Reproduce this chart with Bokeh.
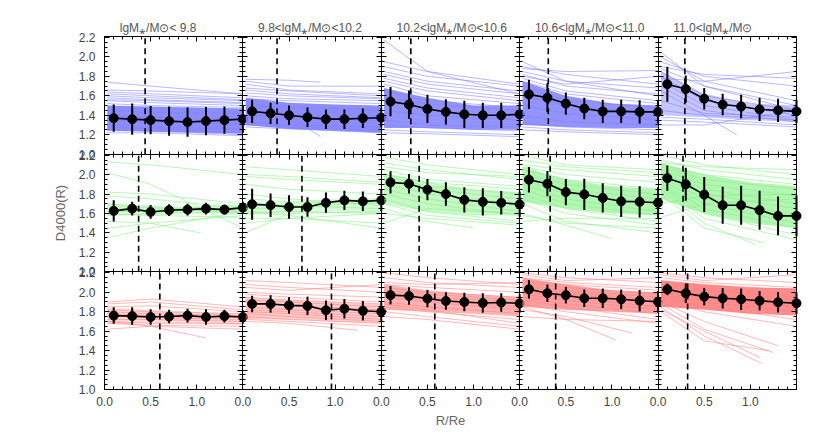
import numpy as np
from bokeh.plotting import figure
from bokeh.models import Range1d, LinearAxis, FixedTicker, Label, PrintfTickFormatter
from bokeh.embed import file_html
from bokeh.resources import INLINE

# ---------------- data ----------------
R = [0.1, 0.3, 0.5, 0.7, 0.9, 1.1, 1.3, 1.5]
BAND_X = [0.03, 0.5, 1.0, 1.5]
LINE_X0, LINE_XM, LINE_XE = 0.03, 0.5, 1.5
TITLES = ["lgM⁎/M⊙< 9.8", " 9.8<lgM⁎/M⊙<10.2", "10.2<lgM⁎/M⊙<10.6",
          "10.6<lgM⁎/M⊙<11.0", "11.0<lgM⁎/M⊙"]
XTICKS = [0.0, 0.5, 1.0]
YTICKS = [1.0, 1.2, 1.4, 1.6, 1.8, 2.0, 2.2]
XLABEL = "R/Re"
YLABEL = "D4000(R)"

blue_mean = [
    [1.37, 1.36, 1.35, 1.34, 1.33, 1.34, 1.35, 1.36],
    [1.44, 1.42, 1.40, 1.38, 1.36, 1.36, 1.37, 1.375],
    [1.54, 1.51, 1.465, 1.435, 1.41, 1.40, 1.40, 1.41],
    [1.615, 1.58, 1.52, 1.47, 1.44, 1.44, 1.435, 1.435],
    [1.72, 1.67, 1.57, 1.51, 1.49, 1.46, 1.45, 1.44],
]
blue_err = [
    [0.14, 0.16, 0.145, 0.15, 0.15, 0.145, 0.14, 0.14],
    [0.12, 0.11, 0.10, 0.10, 0.10, 0.10, 0.10, 0.10],
    [0.15, 0.145, 0.145, 0.13, 0.14, 0.13, 0.13, 0.13],
    [0.15, 0.15, 0.115, 0.11, 0.12, 0.12, 0.12, 0.12],
    [0.18, 0.14, 0.11, 0.11, 0.12, 0.12, 0.12, 0.12],
]
blue_rline = [0.44, 0.37, 0.32, 0.31, 0.29]

green_mean = [
    [1.627, 1.65, 1.616, 1.634, 1.64, 1.65, 1.64, 1.66],
    [1.695, 1.685, 1.667, 1.667, 1.71, 1.735, 1.725, 1.735],
    [1.92, 1.905, 1.845, 1.80, 1.74, 1.72, 1.71, 1.695],
    [1.947, 1.906, 1.82, 1.797, 1.76, 1.725, 1.72, 1.71],
    [1.963, 1.90, 1.794, 1.685, 1.685, 1.634, 1.575, 1.575],
]
green_err = [
    [0.11, 0.07, 0.07, 0.06, 0.06, 0.06, 0.05, 0.06],
    [0.16, 0.12, 0.12, 0.10, 0.105, 0.10, 0.10, 0.11],
    [0.115, 0.10, 0.11, 0.12, 0.13, 0.14, 0.12, 0.13],
    [0.13, 0.13, 0.135, 0.16, 0.15, 0.16, 0.16, 0.16],
    [0.13, 0.17, 0.18, 0.19, 0.20, 0.20, 0.20, 0.21],
]
green_rline = [0.37, 0.64, 0.41, 0.33, 0.27]

red_mean = [
    [1.76, 1.755, 1.745, 1.75, 1.76, 1.745, 1.755, 1.745],
    [1.88, 1.88, 1.865, 1.86, 1.815, 1.83, 1.81, 1.80],
    [1.97, 1.962, 1.935, 1.91, 1.90, 1.89, 1.895, 1.885],
    [2.03, 1.99, 1.97, 1.938, 1.938, 1.928, 1.913, 1.903],
    [2.03, 1.99, 1.955, 1.938, 1.928, 1.913, 1.897, 1.887],
]
red_err = [
    [0.085, 0.09, 0.08, 0.07, 0.07, 0.08, 0.065, 0.07],
    [0.085, 0.09, 0.085, 0.095, 0.10, 0.10, 0.10, 0.10],
    [0.095, 0.09, 0.09, 0.09, 0.095, 0.10, 0.095, 0.095],
    [0.095, 0.09, 0.085, 0.09, 0.10, 0.10, 0.11, 0.11],
    [0.06, 0.10, 0.09, 0.105, 0.11, 0.10, 0.105, 0.11],
]
red_rline = [0.60, 0.96, 0.58, 0.39, 0.32]

# dense core of the individual profiles (at BAND_X)
blue_band_lo = [[1.24, 1.23, 1.22, 1.21], [1.30, 1.26, 1.24, 1.22], [1.27, 1.27, 1.25, 1.25],
                [1.30, 1.28, 1.27, 1.27], [1.40, 1.38, 1.35, 1.33]]
blue_band_hi = [[1.50, 1.49, 1.48, 1.47], [1.58, 1.53, 1.51, 1.50], [1.68, 1.58, 1.50, 1.50],
                [1.75, 1.60, 1.52, 1.50], [1.85, 1.62, 1.52, 1.50]]
green_band_lo = [[1.58, 1.58, 1.60, 1.60], [1.58, 1.60, 1.62, 1.60], [1.70, 1.62, 1.58, 1.58],
                 [1.72, 1.65, 1.60, 1.58], [1.75, 1.60, 1.50, 1.45]]
green_band_hi = [[1.70, 1.68, 1.68, 1.70], [1.72, 1.72, 1.75, 1.76], [2.02, 1.92, 1.85, 1.82],
                 [2.08, 1.95, 1.88, 1.85], [2.12, 2.00, 1.92, 1.88]]
red_band_lo = [[1.68, 1.68, 1.68, 1.66], [1.72, 1.72, 1.70, 1.68], [1.82, 1.80, 1.78, 1.75],
               [1.85, 1.82, 1.80, 1.78], [1.85, 1.82, 1.78, 1.76]]
red_band_hi = [[1.84, 1.82, 1.80, 1.78], [1.95, 1.92, 1.90, 1.88], [2.08, 2.02, 1.98, 1.95],
               [2.15, 2.08, 2.02, 2.00], [2.12, 2.08, 2.05, 2.04]]

# individual profiles: (y at start, y at 0.5, y at end[, end radius])
blue_lines = [
    [(1.74, 1.70, 1.62), (1.66, 1.65, 1.62), (1.64, 1.62, 1.58), (1.62, 1.60, 1.56), (1.60, 1.58, 1.55),
     (1.58, 1.56, 1.53), (1.56, 1.55, 1.52), (1.55, 1.53, 1.50), (1.52, 1.50, 1.48), (1.28, 1.26, 1.22),
     (1.25, 1.24, 1.20), (1.22, 1.22, 1.19), (1.30, 1.28, 1.26), (1.45, 1.43, 1.42), (1.40, 1.38, 1.36),
     (1.35, 1.33, 1.31)],
    [(1.77, 1.76, 1.74, 0.84), (1.75, 1.70, 1.70), (1.72, 1.66, 1.62), (1.68, 1.65, 1.60), (1.66, 1.62, 1.58),
     (1.63, 1.60, 1.57), (1.60, 1.57, 1.55), (1.57, 1.55, 1.52), (1.30, 1.28, 1.24), (1.28, 1.26, 1.22),
     (1.33, 1.30, 1.28), (1.55, 1.40, 1.18, 0.84), (1.50, 1.48, 1.46), (1.40, 1.38, 1.35)],
    [(2.17, 1.85, 1.62), (1.95, 1.85, 1.72), (1.90, 1.80, 1.70), (1.85, 1.75, 1.65), (1.82, 1.72, 1.62),
     (1.78, 1.68, 1.58), (1.75, 1.65, 1.55), (1.72, 1.60, 1.52), (1.65, 1.55, 1.48), (1.22, 1.21, 1.18),
     (1.25, 1.23, 1.20), (1.30, 1.27, 1.24), (1.35, 1.30, 1.28), (1.45, 1.40, 1.35), (1.58, 1.52, 1.45)],
    [(1.95, 1.75, 1.60), (1.90, 1.82, 1.72), (1.88, 1.85, 1.86), (1.85, 1.75, 1.68), (1.82, 1.70, 1.62),
     (1.80, 1.72, 1.80), (1.78, 1.65, 1.55), (1.75, 1.62, 1.52), (1.70, 1.55, 1.48), (1.25, 1.23, 1.20),
     (1.28, 1.25, 1.22), (1.32, 1.28, 1.25), (1.40, 1.33, 1.30), (1.50, 1.42, 1.35), (1.60, 1.50, 1.42)],
    [(2.05, 1.70, 1.45), (2.00, 1.75, 1.55), (1.95, 1.80, 1.70), (1.90, 1.82, 1.78), (1.88, 1.70, 1.50),
     (1.85, 1.60, 1.45), (1.80, 1.55, 1.40), (1.78, 1.75, 1.85), (1.75, 1.50, 1.35), (1.70, 1.45, 1.33),
     (1.65, 1.40, 1.20, 0.85), (1.55, 1.42, 1.38), (1.45, 1.40, 1.35), (1.38, 1.36, 1.30), (1.35, 1.33, 1.28),
     (1.30, 1.30, 1.45)],
]
green_lines = [
    [(2.13, 2.10, 2.00), (2.02, 1.90, 1.45), (1.82, 1.80, 1.70), (1.78, 1.75, 1.65), (1.68, 1.66, 1.60),
     (1.62, 1.62, 1.64), (1.58, 1.60, 1.62), (1.52, 1.50, 1.40, 1.04), (1.35, 1.45, 1.62), (1.45, 1.50, 1.58),
     (1.70, 1.67, 1.62), (1.60, 1.58, 1.56), (1.66, 1.64, 1.68)],
    [(2.08, 2.05, 1.98), (2.00, 1.98, 1.92), (1.98, 1.95, 1.90), (1.90, 1.85, 1.80), (1.80, 1.75, 1.68),
     (1.75, 1.72, 1.70), (1.70, 1.68, 1.65), (1.65, 1.66, 1.72), (1.60, 1.62, 1.60), (1.55, 1.55, 1.50),
     (1.40, 1.60, 1.62), (1.62, 1.58, 1.45), (1.50, 1.55, 1.60)],
    [(2.18, 2.10, 2.00), (2.12, 2.05, 1.95), (2.08, 2.02, 1.98), (2.05, 1.95, 1.88), (2.00, 1.92, 1.85),
     (1.98, 1.88, 1.80), (1.95, 1.85, 1.75), (1.90, 1.80, 1.70), (1.85, 1.75, 1.62), (1.80, 1.70, 1.58),
     (1.75, 1.62, 1.52), (1.70, 1.58, 1.50), (1.65, 1.52, 1.45, 1.0), (1.50, 1.65, 1.60), (1.60, 1.55, 1.48)],
    [(2.20, 2.10, 2.05), (2.15, 2.08, 2.02), (2.10, 2.05, 1.98), (2.08, 2.00, 1.92), (2.05, 1.95, 1.85),
     (2.00, 1.90, 1.80), (1.98, 1.85, 1.75), (1.95, 1.80, 1.70), (1.90, 1.75, 1.62), (1.85, 1.70, 1.58),
     (1.80, 1.65, 1.52), (1.75, 1.60, 1.48), (1.70, 1.52, 1.40), (1.60, 1.48, 1.34, 1.0), (1.52, 1.55, 1.55),
     (1.58, 1.50, 1.45)],
    [(2.20, 2.10, 2.00), (2.15, 2.05, 1.95), (2.12, 2.08, 2.05), (2.10, 2.00, 1.90), (2.08, 1.95, 1.85),
     (2.05, 1.90, 1.78), (2.02, 1.85, 1.70), (2.00, 1.80, 1.65), (1.98, 1.75, 1.58), (1.95, 1.70, 1.50),
     (1.92, 1.65, 1.45), (1.90, 1.60, 1.38), (1.88, 1.55, 1.33), (1.85, 1.50, 1.28, 1.05),
     (1.80, 1.45, 1.30, 1.15), (1.70, 1.78, 1.80), (1.56, 1.70, 1.75)],
]
red_lines = [
    [(1.90, 1.93, 1.85), (1.88, 1.90, 1.82), (1.85, 1.86, 1.80), (1.82, 1.80, 1.78), (1.80, 1.78, 1.76),
     (1.78, 1.76, 1.74), (1.75, 1.74, 1.72), (1.72, 1.72, 1.70), (1.70, 1.68, 1.68), (1.68, 1.66, 1.65),
     (1.62, 1.65, 1.62), (1.70, 1.65, 1.53, 1.1)],
    [(2.12, 2.10, 2.05), (2.08, 2.05, 2.00), (2.05, 2.02, 2.08), (2.00, 1.98, 1.95), (1.98, 1.95, 1.90),
     (1.95, 1.92, 1.88), (1.92, 1.90, 1.85), (1.90, 1.86, 1.82), (1.85, 1.82, 1.78), (1.82, 1.80, 1.75),
     (1.80, 1.78, 1.72), (1.78, 1.75, 1.70), (1.75, 1.72, 1.68), (1.72, 1.70, 1.65), (1.70, 1.68, 1.61, 1.25)],
    [(2.20, 2.15, 2.08), (2.15, 2.10, 2.05), (2.10, 2.08, 2.10), (2.08, 2.05, 2.00), (2.05, 2.00, 1.95),
     (2.02, 1.98, 1.92), (2.00, 1.95, 1.90), (1.98, 1.92, 1.85), (1.95, 1.90, 1.82), (1.90, 1.85, 1.78),
     (1.85, 1.80, 1.72), (1.80, 1.75, 1.65), (1.75, 1.72, 1.62), (1.88, 1.82, 1.68)],
    [(2.20, 2.15, 2.10), (2.18, 2.12, 2.15), (2.15, 2.10, 2.05), (2.12, 2.08, 2.02), (2.10, 2.05, 1.98),
     (2.08, 2.02, 1.95), (2.05, 2.00, 1.92), (2.02, 1.98, 1.90), (2.00, 1.95, 1.85), (1.98, 1.92, 1.82),
     (1.95, 1.88, 1.78), (1.92, 1.85, 1.72), (1.88, 1.80, 1.68), (1.85, 1.72, 1.51, 1.04),
     (1.82, 1.75, 1.58, 1.22), (1.75, 1.72, 1.70)],
    [(2.20, 2.15, 2.10), (2.18, 2.12, 2.18), (2.15, 2.10, 2.05), (2.12, 2.08, 2.02), (2.10, 2.05, 1.98),
     (2.08, 2.02, 1.95), (2.05, 2.00, 1.92), (2.02, 1.98, 1.88), (2.00, 1.95, 1.85), (1.98, 1.90, 1.80),
     (1.95, 1.85, 1.72), (1.92, 1.80, 1.65), (1.90, 1.70, 1.45, 1.3), (1.88, 1.62, 1.38, 1.25),
     (1.85, 1.55, 1.27, 1.12), (1.82, 1.60, 1.33, 1.1), (1.80, 1.50, 1.40, 1.2)],
]

# ---------------- styles / layout ----------------
ROW_COLORS = ["#8080ff", "#80f080", "#ff8080"]
BAND_ALPHA = [[0.9, 0.9, 0.85, 0.85, 0.45],
              [0.25, 0.3, 0.45, 0.6, 0.6],
              [0.3, 0.4, 0.6, 0.75, 0.9]]
NROW, NCOL = 3, 5
XLO, XHI = 0.0, 1.5
YLO, YHI = 1.0, 2.21
TICK_FONT = "Liberation Sans"
TICK_COLOR = "#444444"

# canvas layout in pixels (frame == whole canvas, y measured from bottom)
CW, CH = 830, 445
GX0, GX1 = 104.0, 796.0     # grid left / right
GY0, GY1 = 56.0, 409.0      # grid bottom / top
PW = (GX1 - GX0) / NCOL
PH = (GY1 - GY0) / NROW

rows = [
    (blue_mean, blue_err, blue_rline, blue_band_lo, blue_band_hi, blue_lines),
    (green_mean, green_err, green_rline, green_band_lo, green_band_hi, green_lines),
    (red_mean, red_err, red_rline, red_band_lo, red_band_hi, red_lines),
]

p = figure(width=CW, height=CH, output_backend="svg", toolbar_location=None,
           x_range=Range1d(0, CW), y_range=Range1d(0, CH),
           x_axis_type=None, y_axis_type=None,
           min_border=0, min_border_left=0, min_border_right=0,
           min_border_top=0, min_border_bottom=0)
p.outline_line_color = None
p.background_fill_color = "white"
p.border_fill_color = "white"

sx = (XHI - XLO) / PW
sy = (YHI - YLO) / PH
xr, yr = {}, {}
for c in range(NCOL):
    left = GX0 + c * PW
    xr[f"c{c}"] = Range1d(XLO - left * sx, XLO + (CW - left) * sx)
for r in range(NROW):
    bottom = GY0 + (NROW - 1 - r) * PH
    yr[f"r{r}"] = Range1d(YLO - bottom * sy, YLO + (CH - bottom) * sy)
p.extra_x_ranges = xr
p.extra_y_ranges = yr

# ---------------- data renderers ----------------
for r, (mean, err, rline, blo, bhi, lines) in enumerate(rows):
    col = ROW_COLORS[r]
    for c in range(NCOL):
        kw = dict(x_range_name=f"c{c}", y_range_name=f"r{r}")
        p.varea(x=BAND_X, y1=blo[c], y2=bhi[c], fill_color=col, fill_alpha=BAND_ALPHA[r][c], **kw)
        xs, ys = [], []
        for ln in lines[c]:
            xe = ln[3] if len(ln) > 3 else LINE_XE
            xs.append([LINE_X0, LINE_XM, xe])
            ys.append([ln[0], ln[1], ln[2]])
        p.multi_line(xs=xs, ys=ys, line_color=col, line_alpha=0.55, line_width=1, **kw)
        p.segment(x0=[rline[c]], y0=[YLO], x1=[rline[c]], y1=[YHI], line_color="black",
                  line_width=1.6, line_dash="6 4", **kw)
        m = np.array(mean[c]); e = np.array(err[c])
        p.line(R, m, line_color="black", line_width=1.6, **kw)
        p.segment(x0=R, y0=m - e, x1=R, y1=m + e, line_color="black", line_width=2, **kw)
        p.scatter(R, m, size=9, marker="circle", fill_color="black", line_color="black", **kw)

# ---------------- axes (panel frames with inward ticks) ----------------
y_minor = [round(YLO + 0.05 * i, 2) for i in range(int(round((YTICKS[-1] - YLO) / 0.05)) + 1)]
x_minor = [round(XLO + 0.1 * i, 2) for i in range(16)]


def style_axis(ax, inner, labelled):
    ax.axis_line_color = "black"
    ax.axis_line_width = 1
    ax.major_tick_line_color = "black"
    ax.minor_tick_line_color = "black"
    ax.major_tick_in = 5
    ax.major_tick_out = 5 if inner else 0
    ax.minor_tick_in = 3
    ax.minor_tick_out = 3 if inner else 0
    ax.major_label_text_font = TICK_FONT
    ax.major_label_text_font_size = "12px"
    ax.major_label_text_color = TICK_COLOR
    ax.axis_label_text_font = TICK_FONT
    ax.axis_label_text_font_size = "13px"
    ax.axis_label_text_color = "#666666"
    ax.axis_label_text_font_style = "normal"
    if not labelled:
        ax.major_label_overrides = {t: "" for t in (XTICKS + YTICKS)}


for r in range(NROW):
    for k in range(NCOL + 1):
        ax = LinearAxis(y_range_name=f"r{r}", fixed_location=GX0 + k * PW, bounds=(YLO, YHI),
                        ticker=FixedTicker(ticks=YTICKS, minor_ticks=y_minor),
                        formatter=PrintfTickFormatter(format="%.1f"))
        style_axis(ax, inner=(0 < k < NCOL), labelled=(k == 0))
        if k == 0:
            ax.major_label_standoff = 9
            if r == 1:
                ax.axis_label = YLABEL
                ax.axis_label_standoff = 8
        p.add_layout(ax, "right" if k == NCOL else "left")

for c in range(NCOL):
    for k in range(NROW + 1):
        ax = LinearAxis(x_range_name=f"c{c}", fixed_location=GY0 + k * PH, bounds=(XLO, XHI),
                        ticker=FixedTicker(ticks=XTICKS, minor_ticks=x_minor),
                        formatter=PrintfTickFormatter(format="%.1f"))
        style_axis(ax, inner=(0 < k < NROW), labelled=(k == 0))
        if k == 0:
            ax.major_label_standoff = 7
            if c == NCOL // 2:
                ax.axis_label = XLABEL
                ax.axis_label_standoff = 4
        p.add_layout(ax, "above" if k == NROW else "below")

# ---------------- column titles ----------------
for c, t in enumerate(TITLES):
    p.add_layout(Label(x=XLO + 0.165, y=YHI, x_range_name=f"c{c}", y_range_name="r0",
                       y_offset=9, text=t, text_align="left", text_baseline="alphabetic",
                       text_font=TICK_FONT, text_font_size="12px", text_color="#555555"))

open("out.html", "w").write(file_html(p, INLINE))
